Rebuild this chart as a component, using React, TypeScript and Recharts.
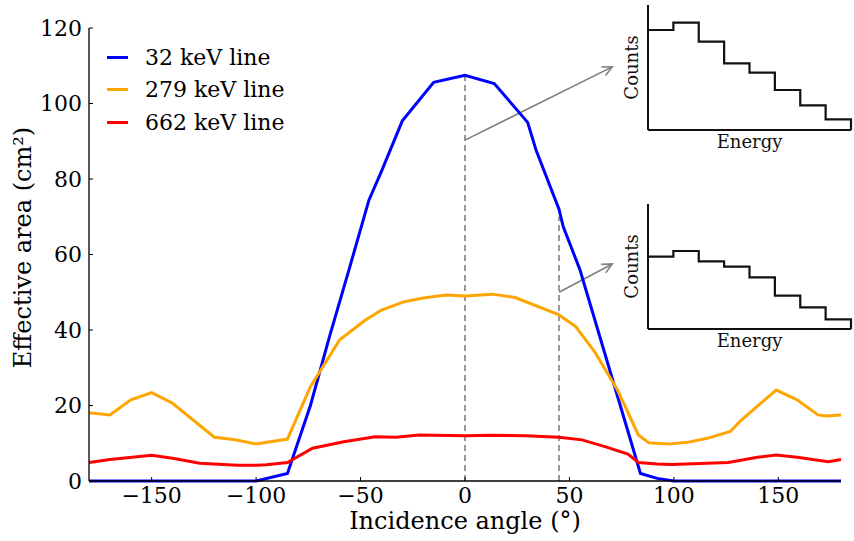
import { LineChart, Line, XAxis, YAxis, ReferenceLine, Legend } from 'recharts';

const FONT = '"DejaVu Serif", serif';

// 32 keV line
const blueAngles = [-180, -100, -85, -74, -65, -55, -46, -40, -30, -15, 0, 14, 30, 34, 45, 47, 55, 84, 92, 100, 180];
const blueValues = [0, 0, 2, 20, 38, 57, 74.4, 82, 95.4, 105.6, 107.5, 105.3, 95, 87.7, 72, 67.4, 56, 2, 0.7, 0, 0];

// 279 keV line
const orangeAngles = [-180, -170, -160, -150, -140, -120, -110, -100, -85, -74, -60, -48, -40, -29, -20, -9, 0, 13, 24, 45, 53, 62, 73, 83, 88, 98, 107, 116, 127, 132, 149, 159, 169, 173, 180];
const orangeValues = [18.1, 17.5, 21.5, 23.4, 20.6, 11.6, 10.9, 9.8, 11.1, 25, 37.4, 42.5, 45.3, 47.5, 48.5, 49.3, 49.0, 49.5, 48.6, 44, 40.9, 34.3, 24.1, 12.2, 10.1, 9.8, 10.3, 11.3, 13.1, 16, 24.1, 21.5, 17.5, 17.2, 17.5];

// 662 keV line
const redAngles = [-180, -170, -150, -140, -127, -109, -100, -95, -85, -73, -58, -43, -33, -22, 0, 13, 29, 45, 56, 67, 78, 83, 92, 99, 126, 140, 149, 159, 174, 180];
const redValues = [4.9, 5.7, 6.8, 6.0, 4.7, 4.2, 4.2, 4.3, 4.9, 8.7, 10.4, 11.7, 11.6, 12.2, 12.0, 12.1, 12.0, 11.6, 10.9, 9.1, 7.1, 4.9, 4.5, 4.4, 4.9, 6.3, 6.9, 6.3, 5.1, 5.7];

const seriesNames = ['32 keV line', '279 keV line', '662 keV line'];
const seriesColors = ['#0000ff', '#ffa500', '#ff0000'];

const xTicks = [-150, -100, -50, 0, 50, 100, 150];
const yTicks = [0, 20, 40, 60, 80, 100, 120];

// spectra shown in the insets (8 energy bins)
const topSpectrum = [100, 107.3, 88.3, 66.7, 57.3, 40, 24.7, 10.7];
const bottomSpectrum = [72.3, 78, 67.6, 62.3, 51.6, 33.3, 21.6, 9.6];

// dashed markers at the two angles and the arrows pointing to the insets
const markerAngles = [0, 45];
const markerHeights = [107, 70];
const arrowStarts = [[0, 90.3], [45, 50]];
const arrowEnds = [[70.5, 109.7], [70.5, 57.5]];

const toPoints = (xs: number[], ys: number[]) => xs.map((x, i) => ({ angle: x, v: ys[i] }));

function Arrow(props: any) {
  const { x1, y1, x2, y2 } = props;
  const a = Math.atan2(y2 - y1, x2 - x1);
  const len = 11;
  const spread = 0.45;
  const p1 = `${x2 - len * Math.cos(a - spread)},${y2 - len * Math.sin(a - spread)}`;
  const p2 = `${x2 - len * Math.cos(a + spread)},${y2 - len * Math.sin(a + spread)}`;
  return (
    <g>
      <line x1={x1} y1={y1} x2={x2} y2={y2} stroke="#808080" strokeWidth={1.6} />
      <polyline points={`${p1} ${x2},${y2} ${p2}`} fill="none" stroke="#808080" strokeWidth={1.6} />
    </g>
  );
}

function renderLegend() {
  return (
    <div style={{ fontFamily: FONT, fontSize: 22, color: '#000', whiteSpace: 'nowrap' }}>
      {seriesNames.map((name, i) => (
        <div key={name} style={{ display: 'flex', alignItems: 'center', height: 32.5 }}>
          <span style={{ display: 'inline-block', width: 21, height: 3, background: seriesColors[i], marginRight: 17 }} />
          <span>{name}</span>
        </div>
      ))}
    </div>
  );
}

function SpectrumInset({ counts, top }: { counts: number[]; top: number }) {
  const data = [...counts.map((c, i) => ({ bin: i, c })), { bin: counts.length, c: 0 }];
  return (
    <div style={{ position: 'absolute', left: 600, top }}>
      <LineChart width={254} height={160} data={data} margin={{ top: 5, right: 3, left: 0, bottom: 0 }} style={{ fontFamily: FONT }}>
        <XAxis
          dataKey="bin"
          type="number"
          domain={[0, counts.length]}
          tick={false}
          tickLine={false}
          height={30}
          axisLine={{ stroke: '#111', strokeWidth: 2 }}
          label={{ value: 'Energy', position: 'insideTop', offset: 5, fill: '#111', fontSize: 18 }}
        />
        <YAxis
          type="number"
          domain={[0, 125]}
          tick={false}
          tickLine={false}
          width={48}
          axisLine={{ stroke: '#111', strokeWidth: 2 }}
          label={{ value: 'Counts', angle: -90, position: 'insideLeft', offset: 32, fill: '#111', fontSize: 18, style: { textAnchor: 'middle' } }}
        />
        <Line type="stepAfter" dataKey="c" stroke="#111" strokeWidth={2.2} dot={false} isAnimationActive={false} />
      </LineChart>
    </div>
  );
}

export default function App() {
  const series = [toPoints(blueAngles, blueValues), toPoints(orangeAngles, orangeValues), toPoints(redAngles, redValues)];
  return (
    <div style={{ position: 'absolute', left: 0, top: 0, width: 854, height: 541, background: '#fff' }}>
      <LineChart width={854} height={541} margin={{ top: 28, right: 13, bottom: 0, left: 0 }} style={{ fontFamily: FONT }}>
        <XAxis
          dataKey="angle"
          type="number"
          domain={[-180, 180]}
          ticks={xTicks}
          interval={0}
          allowDuplicatedCategory={false}
          height={60}
          tickSize={-4}
          tickMargin={10}
          tick={{ fill: '#000', fontSize: 22 }}
          tickFormatter={(v: number) => String(v).replace('-', '\u2212')}
          axisLine={{ stroke: '#000', strokeWidth: 1.3 }}
          tickLine={{ stroke: '#000' }}
          label={{ value: 'Incidence angle (\u00b0)', position: 'insideBottom', offset: 12, fill: '#000', fontSize: 24 }}
        />
        <YAxis
          type="number"
          domain={[0, 120]}
          ticks={yTicks}
          interval={0}
          width={89}
          tickSize={-4}
          tickMargin={11}
          tick={{ fill: '#000', fontSize: 22 }}
          axisLine={{ stroke: '#000', strokeWidth: 1.3 }}
          tickLine={{ stroke: '#000' }}
          label={{ value: 'Effective area (cm\u00b2)', angle: -90, position: 'insideLeft', offset: 22, dy: -7, fill: '#000', fontSize: 24, style: { textAnchor: 'middle' } }}
        />
        {markerAngles.map((a, i) => (
          <ReferenceLine
            key={`m${a}`}
            segment={[{ x: a, y: 0 }, { x: a, y: markerHeights[i] }]}
            stroke="#777"
            strokeWidth={1.5}
            strokeDasharray="6 4"
          />
        ))}
        {arrowStarts.map((s, i) => (
          <ReferenceLine
            key={`a${i}`}
            segment={[{ x: s[0], y: s[1] }, { x: arrowEnds[i][0], y: arrowEnds[i][1] }]}
            shape={Arrow}
          />
        ))}
        {series.map((d, i) => (
          <Line
            key={seriesNames[i]}
            data={d}
            dataKey="v"
            name={seriesNames[i]}
            type="linear"
            stroke={seriesColors[i]}
            strokeWidth={3}
            dot={false}
            isAnimationActive={false}
          />
        ))}
        <Legend
          layout="vertical"
          align="center"
          verticalAlign="middle"
          content={renderLegend}
          wrapperStyle={{ left: 107, top: 41, width: 'auto', height: 'auto' }}
        />
      </LineChart>
      <SpectrumInset counts={topSpectrum} top={0} />
      <SpectrumInset counts={bottomSpectrum} top={199} />
    </div>
  );
}
